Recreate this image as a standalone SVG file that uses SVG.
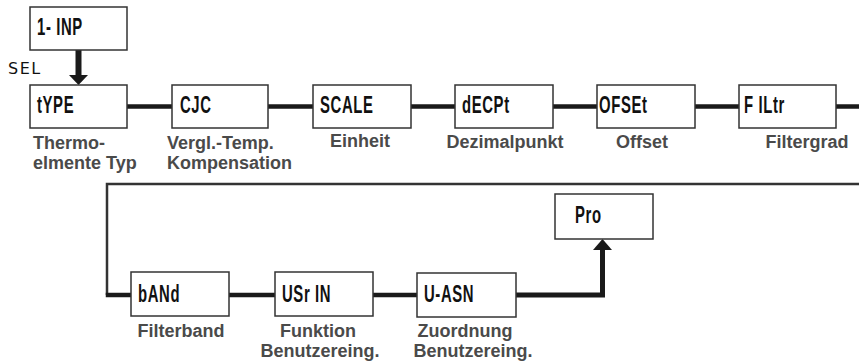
<svg xmlns="http://www.w3.org/2000/svg" width="859" height="363" viewBox="0 0 859 363">
<style>
.box{fill:#fff;stroke:#333;stroke-width:1.5}
.lcd{font-family:"Liberation Sans",Arial,sans-serif;font-weight:bold;font-size:24px;fill:#111;letter-spacing:1px}
.lbl{font-family:"Liberation Sans",Arial,sans-serif;font-weight:bold;font-size:18px;fill:#4a4a4a}
.c{text-anchor:middle}
.thick{stroke:#1a1a1a;stroke-width:4.5;fill:none}
.thin{stroke:#333;stroke-width:2.5;fill:none}
.head{fill:#1a1a1a}
</style>
<rect width="859" height="363" fill="#fff"/>
<g id="connectors">
<line class="thick" x1="78.5" y1="50" x2="78.5" y2="76" style="stroke-width:6"/>
<polygon class="head" points="69,75 88,75 78.5,85"/>
<line class="thick" x1="127" y1="106.5" x2="172" y2="106.5"/>
<line class="thick" x1="268" y1="106.5" x2="313" y2="106.5"/>
<line class="thick" x1="411" y1="106.5" x2="455" y2="106.5"/>
<line class="thick" x1="553" y1="106.5" x2="597" y2="106.5"/>
<line class="thick" x1="695" y1="106.5" x2="739" y2="106.5"/>
<line class="thick" x1="836" y1="106.5" x2="859" y2="106.5"/>
<polyline class="thin" points="859,184 107,184 107,295"/>
<line class="thick" x1="105.75" y1="295" x2="131" y2="295"/>
<line class="thick" x1="229" y1="295" x2="275" y2="295"/>
<line class="thick" x1="373" y1="295" x2="417" y2="295"/>
<polyline class="thick" points="516,295 602.5,295 602.5,249" style="stroke-width:5"/>
<polygon class="head" points="593,250 612,250 602.5,239"/>
</g>
<text x="8" y="74" style="font-family:'DejaVu Sans',sans-serif;font-size:16px;fill:#111;letter-spacing:1.5px">SEL</text>
<g id="n-inp"><rect class="box" x="30" y="7" width="97" height="43"/><text class="lcd" transform="translate(37,35) scale(0.62,1)">1- INP</text></g>
<g id="n-type"><rect class="box" x="30" y="85" width="97" height="43"/><text class="lcd" transform="translate(37,113) scale(0.62,1)">tYPE</text>
<text class="lbl" x="33" y="149">Thermo-</text><text class="lbl" x="33" y="169">elmente Typ</text></g>
<g id="n-cjc"><rect class="box" x="172" y="85" width="96" height="43"/><text class="lcd" transform="translate(180,113) scale(0.62,1)">CJC</text>
<text class="lbl" x="167" y="149">Vergl.-Temp.</text><text class="lbl" x="167" y="169">Kompensation</text></g>
<g id="n-scale"><rect class="box" x="313" y="85" width="98" height="43"/><text class="lcd" transform="translate(320,113) scale(0.62,1)">SCALE</text>
<text class="lbl c" x="360" y="147">Einheit</text></g>
<g id="n-decpt"><rect class="box" x="455" y="85" width="98" height="43"/><text class="lcd" transform="translate(462,113) scale(0.62,1)">dECPt</text>
<text class="lbl c" x="505" y="148">Dezimalpunkt</text></g>
<g id="n-ofset"><rect class="box" x="597" y="85" width="98" height="43"/><text class="lcd" transform="translate(599,113) scale(0.62,1)">OFSEt</text>
<text class="lbl c" x="642" y="148">Offset</text></g>
<g id="n-filtr"><rect class="box" x="739" y="85" width="97" height="43"/><text class="lcd" transform="translate(744,113) scale(0.62,1)">F ILtr</text>
<text class="lbl c" x="807" y="148">Filtergrad</text></g>
<g id="n-band"><rect class="box" x="131" y="272" width="98" height="44"/><text class="lcd" transform="translate(138,302) scale(0.62,1)">bANd</text>
<text class="lbl c" x="181" y="337">Filterband</text></g>
<g id="n-usrin"><rect class="box" x="275" y="272" width="98" height="44"/><text class="lcd" transform="translate(282,302) scale(0.62,1)">USr IN</text>
<text class="lbl c" x="318" y="337">Funktion</text><text class="lbl c" x="320" y="357">Benutzereing.</text></g>
<g id="n-uasn"><rect class="box" x="417" y="273" width="99" height="44"/><text class="lcd" transform="translate(424,302) scale(0.62,1)">U-ASN</text>
<text class="lbl c" x="465" y="337">Zuordnung</text><text class="lbl c" x="473" y="357">Benutzereing.</text></g>
<g id="n-pro"><rect class="box" x="555" y="194" width="98" height="45"/><text class="lcd" transform="translate(575,223) scale(0.62,1)">Pro</text></g>
</svg>
